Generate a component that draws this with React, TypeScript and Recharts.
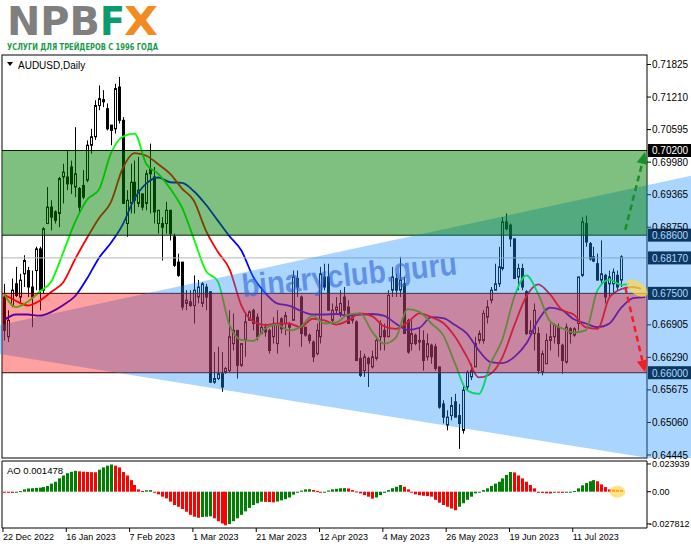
import React from 'react';
import { ComposedChart, Bar, Line, XAxis, YAxis, ReferenceArea, ReferenceLine, ReferenceDot } from 'recharts';

// AUDUSD daily candles, one per trading day (bar 0 = 19 Dec 2022)
const opens = [
  0.6743, 0.6668, 0.6727, 0.6768, 0.6743, 0.6787, 0.6793, 0.6762, 0.6793, 0.6834,
  0.6756, 0.6882, 0.6913, 0.6904, 0.6901, 0.6970, 0.6970, 0.6989, 0.6951, 0.6948,
  0.6954, 0.6964, 0.7030, 0.7046, 0.7105, 0.7116, 0.7099, 0.7068, 0.7061, 0.7140,
  0.7077, 0.6882, 0.6920, 0.6960, 0.6920, 0.6938, 0.6920, 0.6986, 0.6970, 0.6882,
  0.6882, 0.6882, 0.6907, 0.6857, 0.6809, 0.6809, 0.6731, 0.6734, 0.6727, 0.6743,
  0.6731, 0.6762, 0.6753, 0.6582, 0.6589, 0.6598, 0.6601, 0.6604, 0.6655, 0.6680,
  0.6614, 0.6661, 0.6699, 0.6718, 0.6705, 0.6674, 0.6686, 0.6680, 0.6668, 0.6655,
  0.6702, 0.6693, 0.6693, 0.6699, 0.6778, 0.6743, 0.6686, 0.6671, 0.6658, 0.6636,
  0.6668, 0.6781, 0.6781, 0.6699, 0.6718, 0.6712, 0.6743, 0.6724, 0.6699, 0.6696,
  0.6627, 0.6604, 0.6627, 0.6611, 0.6627, 0.6668, 0.6680, 0.6668, 0.6756, 0.6778,
  0.6756, 0.6768, 0.6699, 0.6655, 0.6671, 0.6658, 0.6661, 0.6630, 0.6652, 0.6649,
  0.6611, 0.6541, 0.6501, 0.6519, 0.6545, 0.6519, 0.6491, 0.6573, 0.6592, 0.6611,
  0.6661, 0.6661, 0.6705, 0.6737, 0.6756, 0.6768, 0.6797, 0.6885, 0.6879, 0.6853,
  0.6781, 0.6797, 0.6753, 0.6674, 0.6674, 0.6674, 0.6601, 0.6617, 0.6661, 0.6668,
  0.6686, 0.6652, 0.6620, 0.6683, 0.6671, 0.6693, 0.6784, 0.6882, 0.6844, 0.6819,
  0.6806, 0.6775, 0.6784, 0.6768, 0.6768, 0.6784, 0.6775,
];
const highs = [
  0.6768, 0.6718, 0.6778, 0.6800, 0.6787, 0.6822, 0.6800, 0.6793, 0.6838, 0.6838,
  0.6875, 0.6951, 0.6926, 0.6907, 0.6970, 0.6995, 0.7020, 0.7001, 0.7064, 0.6951,
  0.6983, 0.7039, 0.7061, 0.7115, 0.7143, 0.7134, 0.7109, 0.7068, 0.7146, 0.7159,
  0.7083, 0.6945, 0.6995, 0.7001, 0.7008, 0.6938, 0.6983, 0.7033, 0.6989, 0.6907,
  0.6894, 0.6923, 0.6907, 0.6863, 0.6825, 0.6809, 0.6756, 0.6756, 0.6784, 0.6775,
  0.6771, 0.6768, 0.6753, 0.6639, 0.6649, 0.6639, 0.6611, 0.6718, 0.6712, 0.6680,
  0.6655, 0.6712, 0.6718, 0.6721, 0.6712, 0.6762, 0.6693, 0.6683, 0.6705, 0.6718,
  0.6705, 0.6715, 0.6696, 0.6793, 0.6793, 0.6746, 0.6686, 0.6674, 0.6661, 0.6693,
  0.6800, 0.6806, 0.6806, 0.6731, 0.6743, 0.6756, 0.6762, 0.6737, 0.6712, 0.6699,
  0.6642, 0.6636, 0.6630, 0.6642, 0.6668, 0.6699, 0.6693, 0.6756, 0.6800, 0.6787,
  0.6819, 0.6781, 0.6702, 0.6699, 0.6674, 0.6686, 0.6680, 0.6674, 0.6655, 0.6655,
  0.6611, 0.6548, 0.6529, 0.6554, 0.6560, 0.6541, 0.6579, 0.6604, 0.6617, 0.6668,
  0.6680, 0.6718, 0.6737, 0.6762, 0.6806, 0.6838, 0.6894, 0.6901, 0.6882, 0.6853,
  0.6806, 0.6806, 0.6756, 0.6699, 0.6731, 0.6686, 0.6642, 0.6674, 0.6693, 0.6693,
  0.6693, 0.6655, 0.6693, 0.6686, 0.6686, 0.6781, 0.6894, 0.6897, 0.6847, 0.6838,
  0.6825, 0.6850, 0.6787, 0.6793, 0.6797, 0.6793, 0.6822,
];
const lows = [
  0.6661, 0.6658, 0.6724, 0.6743, 0.6731, 0.6762, 0.6743, 0.6686, 0.6756, 0.6718,
  0.6749, 0.6882, 0.6869, 0.6882, 0.6875, 0.6920, 0.6945, 0.6938, 0.6932, 0.6901,
  0.6928, 0.6960, 0.7014, 0.7040, 0.7096, 0.7102, 0.7058, 0.7030, 0.7052, 0.7071,
  0.6920, 0.6857, 0.6901, 0.6901, 0.6913, 0.6907, 0.6907, 0.6901, 0.6882, 0.6863,
  0.6812, 0.6863, 0.6850, 0.6800, 0.6781, 0.6718, 0.6718, 0.6724, 0.6693, 0.6731,
  0.6724, 0.6718, 0.6582, 0.6579, 0.6586, 0.6564, 0.6598, 0.6601, 0.6642, 0.6589,
  0.6611, 0.6630, 0.6699, 0.6680, 0.6661, 0.6674, 0.6668, 0.6636, 0.6655, 0.6636,
  0.6674, 0.6671, 0.6649, 0.6699, 0.6743, 0.6649, 0.6668, 0.6655, 0.6620, 0.6633,
  0.6655, 0.6756, 0.6718, 0.6693, 0.6712, 0.6705, 0.6705, 0.6693, 0.6693, 0.6623,
  0.6592, 0.6592, 0.6573, 0.6608, 0.6623, 0.6642, 0.6642, 0.6668, 0.6743, 0.6743,
  0.6743, 0.6674, 0.6636, 0.6642, 0.6652, 0.6642, 0.6604, 0.6623, 0.6617, 0.6604,
  0.6532, 0.6504, 0.6491, 0.6510, 0.6516, 0.6456, 0.6485, 0.6567, 0.6586, 0.6611,
  0.6655, 0.6655, 0.6693, 0.6731, 0.6756, 0.6762, 0.6793, 0.6869, 0.6838, 0.6778,
  0.6756, 0.6756, 0.6671, 0.6671, 0.6642, 0.6598, 0.6595, 0.6617, 0.6642, 0.6655,
  0.6630, 0.6598, 0.6617, 0.6655, 0.6668, 0.6680, 0.6781, 0.6838, 0.6812, 0.6809,
  0.6775, 0.6768, 0.6731, 0.6743, 0.6749, 0.6756, 0.6762,
];
const closes = [
  0.6680, 0.6699, 0.6756, 0.6746, 0.6775, 0.6812, 0.6762, 0.6743, 0.6834, 0.6756,
  0.6872, 0.6913, 0.6894, 0.6888, 0.6967, 0.6979, 0.6957, 0.6957, 0.6976, 0.6913,
  0.6932, 0.7030, 0.7046, 0.7105, 0.7118, 0.7112, 0.7061, 0.7058, 0.7137, 0.7077,
  0.6920, 0.6926, 0.6960, 0.6926, 0.6945, 0.6913, 0.6976, 0.6976, 0.6904, 0.6907,
  0.6875, 0.6907, 0.6863, 0.6803, 0.6784, 0.6724, 0.6737, 0.6727, 0.6756, 0.6762,
  0.6768, 0.6743, 0.6582, 0.6589, 0.6598, 0.6573, 0.6608, 0.6668, 0.6680, 0.6614,
  0.6655, 0.6696, 0.6715, 0.6693, 0.6668, 0.6686, 0.6677, 0.6642, 0.6693, 0.6693,
  0.6683, 0.6708, 0.6686, 0.6781, 0.6762, 0.6674, 0.6671, 0.6661, 0.6630, 0.6680,
  0.6787, 0.6762, 0.6718, 0.6718, 0.6724, 0.6731, 0.6718, 0.6693, 0.6705, 0.6623,
  0.6595, 0.6630, 0.6617, 0.6630, 0.6661, 0.6693, 0.6668, 0.6746, 0.6781, 0.6756,
  0.6775, 0.6674, 0.6639, 0.6674, 0.6655, 0.6661, 0.6623, 0.6655, 0.6630, 0.6608,
  0.6535, 0.6516, 0.6516, 0.6538, 0.6516, 0.6504, 0.6567, 0.6601, 0.6604, 0.6655,
  0.6674, 0.6712, 0.6724, 0.6756, 0.6768, 0.6800, 0.6885, 0.6872, 0.6853, 0.6778,
  0.6797, 0.6762, 0.6674, 0.6679, 0.6718, 0.6604, 0.6636, 0.6661, 0.6668, 0.6690,
  0.6655, 0.6623, 0.6686, 0.6674, 0.6683, 0.6781, 0.6885, 0.6847, 0.6815, 0.6811,
  0.6775, 0.6787, 0.6743, 0.6781, 0.6790, 0.6762, 0.6819,
];

// Alligator lines every third bar (they run a few bars past the last candle)
const lipsValues = [
  0.6749, 0.6724, 0.6734, 0.6753, 0.6773, 0.6828, 0.6885, 0.6927, 0.6946, 0.7014,
  0.7046, 0.7052, 0.6994, 0.6976, 0.6948, 0.6912, 0.6853, 0.6793, 0.6773, 0.6690,
  0.6662, 0.6660, 0.6683, 0.6691, 0.6680, 0.6687, 0.6708, 0.6693, 0.6695, 0.6710,
  0.6712, 0.6678, 0.6655, 0.6666, 0.6720, 0.6715, 0.6693, 0.6671, 0.6617, 0.6567,
  0.6560, 0.6618, 0.6664, 0.6744, 0.6784, 0.6749, 0.6697, 0.6684, 0.6676, 0.6680,
  0.6756, 0.6776, 0.6766, 0.6768,
];
const teethValues = [
  0.6748, 0.6736, 0.6727, 0.6736, 0.6753, 0.6771, 0.6815, 0.6855, 0.6892, 0.6922,
  0.6986, 0.7015, 0.7010, 0.6994, 0.6976, 0.6948, 0.6925, 0.6869, 0.6829, 0.6796,
  0.6727, 0.6697, 0.6690, 0.6693, 0.6693, 0.6686, 0.6702, 0.6699, 0.6691, 0.6699,
  0.6712, 0.6707, 0.6688, 0.6683, 0.6695, 0.6712, 0.6705, 0.6694, 0.6668, 0.6630,
  0.6591, 0.6598, 0.6630, 0.6690, 0.6744, 0.6767, 0.6748, 0.6719, 0.6710, 0.6686,
  0.6683, 0.6742, 0.6758, 0.6762, 0.6759,
];
const jawValues = [
  0.6699, 0.6710, 0.6710, 0.6708, 0.6715, 0.6728, 0.6745, 0.6778, 0.6817, 0.6845,
  0.6880, 0.6929, 0.6958, 0.6969, 0.6960, 0.6959, 0.6943, 0.6918, 0.6888, 0.6858,
  0.6831, 0.6781, 0.6751, 0.6731, 0.6727, 0.6717, 0.6710, 0.6710, 0.6711, 0.6708,
  0.6710, 0.6711, 0.6708, 0.6693, 0.6681, 0.6685, 0.6705, 0.6703, 0.6690, 0.6674,
  0.6642, 0.6620, 0.6618, 0.6630, 0.6655, 0.6699, 0.6723, 0.6718, 0.6701, 0.6693,
  0.6686, 0.6693, 0.6723, 0.6741, 0.6743,
];
const lipsBars = [...lipsValues.slice(0, -1).map((_, k) => k * 3), 158];
const teethBars = [...teethValues.slice(0, -1).map((_, k) => k * 3), 161];
const jawBars = jawValues.map((_, k) => k * 3);

// Awesome Oscillator, one value per candle
const aoValues = [
  -0.0008, -0.0009, -0.0010, -0.0007, 0.0005, 0.0020, 0.0028, 0.0030, 0.0033, 0.0035,
  0.0040, 0.0050, 0.0070, 0.0086, 0.0115, 0.0140, 0.0160, 0.0172, 0.0180, 0.0176,
  0.0173, 0.0171, 0.0169, 0.0168, 0.0190, 0.0210, 0.0225, 0.0235, 0.0225, 0.0210,
  0.0170, 0.0140, 0.0100, 0.0058, 0.0020, 0.0005, 0.0012, 0.0014, -0.0006, -0.0023,
  -0.0043, -0.0058, -0.0086, -0.0115, -0.0130, -0.0150, -0.0173, -0.0200, -0.0216, -0.0225,
  -0.0219, -0.0216, -0.0213, -0.0230, -0.0255, -0.0275, -0.0290, -0.0280, -0.0255, -0.0230,
  -0.0200, -0.0170, -0.0140, -0.0115, -0.0100, -0.0086, -0.0088, -0.0090, -0.0092, -0.0085,
  -0.0075, -0.0065, -0.0050, -0.0025, -0.0005, 0.0010, 0.0020, 0.0022, 0.0015, 0.0005,
  -0.0008, -0.0005, 0.0010, 0.0020, 0.0025, 0.0030, 0.0031, 0.0028, 0.0014, 0.0002,
  -0.0014, -0.0030, -0.0043, -0.0060, -0.0050, -0.0030, -0.0010, 0.0014, 0.0030, 0.0043,
  0.0058, 0.0043, 0.0020, -0.0006, -0.0023, -0.0030, -0.0035, -0.0038, -0.0043, -0.0070,
  -0.0095, -0.0115, -0.0130, -0.0145, -0.0160, -0.0130, -0.0100, -0.0070, -0.0043, -0.0014,
  -0.0005, 0.0014, 0.0029, 0.0050, 0.0070, 0.0086, 0.0115, 0.0145, 0.0170, 0.0167,
  0.0140, 0.0115, 0.0086, 0.0058, 0.0029, -0.0006, -0.0010, -0.0014, -0.0015, -0.0008,
  -0.0009, -0.0010, -0.0008, -0.0007, 0.0006, 0.0029, 0.0055, 0.0075, 0.0090, 0.0100,
  0.0090, 0.0063, 0.0040, 0.0020, 0.0018, 0.0016, 0.001478,
];

const dateTicks = [0, 16, 32, 48, 64, 80, 96, 112, 128, 144];
const dateLabels = ['22 Dec 2022', '16 Jan 2023', '7 Feb 2023', '1 Mar 2023', '21 Mar 2023', '12 Apr 2023', '4 May 2023', '26 May 2023', '19 Jun 2023', '11 Jul 2023'];
const priceTicks = [0.71825, 0.7121, 0.70595, 0.6998, 0.69365, 0.6875, 0.66905, 0.6629, 0.65675, 0.6506, 0.64445];
const aoTicks = [0.023939, 0, -0.027812];

// horizontal levels with their price tags
const levelPrices = [0.702, 0.686, 0.675, 0.66];
const bidPrice = 0.6817;
// zones: [top, bottom]
const buyZone = [0.702, 0.686];
const sellZone = [0.675, 0.66];
// channel edges: price at left and right edge of the plot
const channelUpper = [0.6691, 0.69542];
const channelLower = [0.66348, 0.64393];

const P_MAX = 0.72005;
const P_MIN = 0.64388;
const AO_MAX = 0.02653;
const AO_MIN = -0.03137;
const SLOTS = 163;

const rows: any[] = Array.from({ length: SLOTS }, (_, i) => {
  const r: any = { i };
  if (i < closes.length) {
    r.open = opens[i];
    r.high = highs[i];
    r.low = lows[i];
    r.close = closes[i];
    r.range = [lows[i], highs[i]];
    r.ao = aoValues[i];
    r.aoUp = i > 0 && aoValues[i] > aoValues[i - 1];
  }
  return r;
});
lipsBars.forEach((b, k) => { rows[b].lips = lipsValues[k]; });
teethBars.forEach((b, k) => { rows[b].teeth = teethValues[k]; });
jawBars.forEach((b, k) => { rows[b].jaw = jawValues[k]; });

const FONT = "'Liberation Sans', Arial, sans-serif";

function Candle(props: any) {
  const { x, y, width, height, payload } = props;
  if (!payload || payload.high == null) return null;
  const yTop = Math.min(y, y + height);
  const h = Math.abs(height);
  const { open, close, high, low } = payload;
  const k = h / (high - low || 1e-9);
  const yOf = (v: number) => yTop + (high - v) * k;
  const cx = Math.round(x + width / 2) + 0.5;
  const bTop = yOf(Math.max(open, close));
  const bBot = yOf(Math.min(open, close));
  const bull = close > open;
  return (
    <g>
      <line x1={cx} x2={cx} y1={yTop} y2={yTop + h} stroke="#000" strokeWidth={1} />
      <rect x={cx - 1} y={bTop} width={2} height={Math.max(bBot - bTop, 0.6)} fill={bull ? '#fff' : '#000'} stroke="#000" strokeWidth={1} />
    </g>
  );
}

function AoBar(props: any) {
  const { x, y, width, height, payload } = props;
  if (!payload || payload.ao == null) return null;
  const top = Math.min(y, y + height);
  const cx = Math.round(x + width / 2);
  return <rect x={cx - 1} y={top} width={3} height={Math.max(Math.abs(height), 1)} fill={payload.aoUp ? '#008000' : '#ff0000'} />;
}

// level lines plus their black price tags; the channel tint is drawn afterwards in the same shape
function LevelsAndChannel(props: any) {
  const { x, y, width, height } = props;
  const toY = (v: number) => y + ((P_MAX - v) / (P_MAX - P_MIN)) * height;
  const right = x + width;
  const tag = (v: number, color: string) => {
    const py = toY(v);
    return (
      <g key={v}>
        <line x1={x} y1={py} x2={right} y2={py} stroke={color} strokeWidth={1} />
        <rect x={right + 1} y={py - 6.5} width={44} height={13} fill="#000" />
        <text x={right + 5} y={py + 4} fill="#fff" fontSize={10} fontFamily={FONT}>{v.toFixed(5)}</text>
      </g>
    );
  };
  const left = x - 2;
  const far = right + 44;
  const lineAt = (edge: number[], px: number) => {
    const yl = toY(edge[0]), yr = toY(edge[1]);
    return yl + ((yr - yl) * (px - x)) / width;
  };
  const bottom = y + height;
  const lL = lineAt(channelLower, left);
  const lR = lineAt(channelLower, far);
  const xc = lR > bottom ? left + ((bottom - lL) / (lR - lL)) * (far - left) : far;
  const pts = [
    [left, lineAt(channelUpper, left)],
    [far, lineAt(channelUpper, far)],
    [far, Math.min(lR, bottom)],
    [xc, Math.min(lineAt(channelLower, xc), bottom)],
    [left, lL],
  ];
  return (
    <g>
      {tag(bidPrice, '#b4b4b4')}
      {levelPrices.map((v) => tag(v, '#000'))}
      <rect x={x} y={y} width={width} height={height} fill="none" stroke="#000" strokeWidth={1} />
      <polygon points={pts.map((q) => q.join(',')).join(' ')} fill="#1e90ff" fillOpacity={0.38} />
    </g>
  );
}

const arrowShape = (color: string) => (p: any) => {
  const { x1, y1, x2, y2 } = p;
  const dx = x2 - x1, dy = y2 - y1;
  const len = Math.hypot(dx, dy) || 1;
  const ux = dx / len, uy = dy / len;
  const bx = x2 - ux * 12, by = y2 - uy * 12;
  return (
    <g>
      <line x1={x1} y1={y1} x2={bx} y2={by} stroke={color} strokeWidth={2.5} strokeDasharray="6 4" />
      <polygon points={`${x2},${y2} ${bx - uy * 5.5},${by + ux * 5.5} ${bx + uy * 5.5},${by - ux * 5.5}`} fill={color} />
    </g>
  );
};

const ellipse = (rx: number, ry: number, rot: number) => (p: any) => (
  <ellipse cx={p.cx} cy={p.cy} rx={rx} ry={ry} transform={`rotate(${rot} ${p.cx} ${p.cy})`} fill="#ffd84a" fillOpacity={0.7} />
);

function DateTick(props: any) {
  const { x, y, payload } = props;
  const label = dateLabels[dateTicks.indexOf(payload.value)];
  return (
    <g>
      <line x1={x - 1} x2={x - 1} y1={y} y2={y + 4} stroke="#000" />
      <text x={x - 1} y={y + 12} fontSize={9} fontFamily={FONT} fill="#000" textAnchor="start">{label}</text>
    </g>
  );
}

function AoTick(props: any) {
  const { x, y, payload } = props;
  const v = payload.value;
  const label = v === 0 ? '0.00' : String(v);
  return (
    <text x={v < 0 ? x - 3 : x} y={y + 3} fontSize={9} fontFamily={FONT} fill="#000" textAnchor="start">{label}</text>
  );
}

export default function App() {
  return (
    <div style={{ position: 'absolute', left: 0, top: 0, width: 691, height: 549, background: '#fff', overflow: 'hidden', fontFamily: FONT }}>
      <svg width={170} height={56} style={{ position: 'absolute', left: 0, top: 0 }}>
        <text x={7} y={35} fontSize={39} fontWeight={700} fill="#7f7f7f" fontFamily="'DejaVu Sans', sans-serif" textLength={93} lengthAdjust="spacingAndGlyphs">NPB</text>
        <text x={100} y={35} fontSize={39} fontWeight={700} fill="#0a9b6e" fontFamily="'DejaVu Sans', sans-serif" textLength={25} lengthAdjust="spacingAndGlyphs">F</text>
        <text x={124} y={35} fontSize={39} fontWeight={700} fill="#f28c22" fontFamily="'DejaVu Sans', sans-serif" textLength={34} lengthAdjust="spacingAndGlyphs">X</text>
        <text x={7} y={50} fontSize={9.5} fontWeight={700} fill="#1a9a4a" fontFamily="'Liberation Sans Narrow', 'DejaVu Sans Condensed', 'Liberation Sans', sans-serif" textLength={151} lengthAdjust="spacingAndGlyphs">УСЛУГИ ДЛЯ ТРЕЙДЕРОВ С 1996 ГОДА</text>
      </svg>

      <div style={{ position: 'absolute', left: 0, top: 0 }}>
        <ComposedChart width={691} height={462} data={rows} margin={{ top: 55, right: 0, bottom: 4, left: 2 }}>
          <XAxis dataKey="i" hide />
          <YAxis
            yAxisId="p"
            orientation="right"
            type="number"
            width={44}
            domain={[P_MIN, P_MAX]}
            allowDataOverflow
            ticks={priceTicks}
            interval={0}
            tickFormatter={(v: number) => v.toFixed(5)}
            tick={{ fontSize: 10, fill: '#000', fontFamily: FONT }}
            tickLine={{ stroke: '#000' }}
            tickSize={4}
            tickMargin={1}
            axisLine={false}
          />
          <Bar yAxisId="p" dataKey={(d: any) => d.range} shape={<Candle />} isAnimationActive={false} zIndex={300} />
          <Line yAxisId="p" dataKey="jaw" type="monotone" stroke="#0000ff" strokeWidth={1.8} dot={false} connectNulls isAnimationActive={false} zIndex={400} />
          <Line yAxisId="p" dataKey="teeth" type="monotone" stroke="#ff0000" strokeWidth={1.8} dot={false} connectNulls isAnimationActive={false} zIndex={401} />
          <Line yAxisId="p" dataKey="lips" type="monotone" stroke="#00ff00" strokeWidth={1.8} dot={false} connectNulls isAnimationActive={false} zIndex={402} />
          <ReferenceArea yAxisId="p" y1={P_MAX} y2={P_MIN} shape={LevelsAndChannel} zIndex={750} />
          <ReferenceArea yAxisId="p" y1={buyZone[0]} y2={buyZone[1]} fill="#008000" fillOpacity={0.5} stroke="none" zIndex={800} />
          <ReferenceArea yAxisId="p" y1={sellZone[0]} y2={sellZone[1]} fill="#ff0000" fillOpacity={0.37} stroke="none" zIndex={801} />
          <ReferenceLine yAxisId="p" segment={[{ x: 157, y: 0.687 }, { x: 162, y: 0.7017 }]} shape={arrowShape('#18902a')} zIndex={1000} />
          <ReferenceLine yAxisId="p" segment={[{ x: 157, y: 0.6762 }, { x: 162, y: 0.6601 }]} shape={arrowShape('#f02020')} zIndex={1000} />
          <ReferenceDot yAxisId="p" x={160} y={0.676} shape={ellipse(12, 6.5, 35)} zIndex={1100} />
        </ComposedChart>
      </div>

      <div style={{ position: 'absolute', left: 0, top: 458 }}>
        <ComposedChart width={691} height={91} data={rows} margin={{ top: 3, right: 0, bottom: 0, left: 2 }}>
          <XAxis
            dataKey="i"
            ticks={dateTicks}
            interval={0}
            tick={<DateTick />}
            tickLine={false}
            axisLine={false}
            tickSize={0}
            tickMargin={0}
            height={21}
          />
          <YAxis
            yAxisId="ao"
            orientation="right"
            type="number"
            width={44}
            domain={[AO_MIN, AO_MAX]}
            allowDataOverflow
            ticks={aoTicks}
            interval={0}
            tick={<AoTick />}
            tickLine={{ stroke: '#000' }}
            tickSize={4}
            tickMargin={1}
            axisLine={false}
          />
          <Bar yAxisId="ao" dataKey="ao" shape={<AoBar />} isAnimationActive={false} zIndex={300} />
          <ReferenceArea yAxisId="ao" y1={AO_MAX} y2={AO_MIN} fill="none" stroke="#000" strokeWidth={1} zIndex={700} />
          <ReferenceDot yAxisId="ao" x={155} y={0} shape={ellipse(8, 6, 0)} zIndex={1100} />
        </ComposedChart>
      </div>

      <svg width={691} height={549} style={{ position: 'absolute', left: 0, top: 0, pointerEvents: 'none' }}>
        <polygon points="7,62 13,62 10,66" fill="#000" />
        <text x={18} y={68.5} fontSize={10} fill="#000" fontFamily={FONT}>AUDUSD,Daily</text>
        <text x={7} y={473.5} fontSize={9.5} fill="#000" fontFamily={FONT}>AO 0.001478</text>
        <text x={243} y={297} fontSize={32} fontWeight={700} fill="#3264d2" fillOpacity={0.6} fontFamily={FONT} textLength={216} lengthAdjust="spacingAndGlyphs" transform="rotate(-6 243 297)">binaryclub.guru</text>
      </svg>
    </div>
  );
}
